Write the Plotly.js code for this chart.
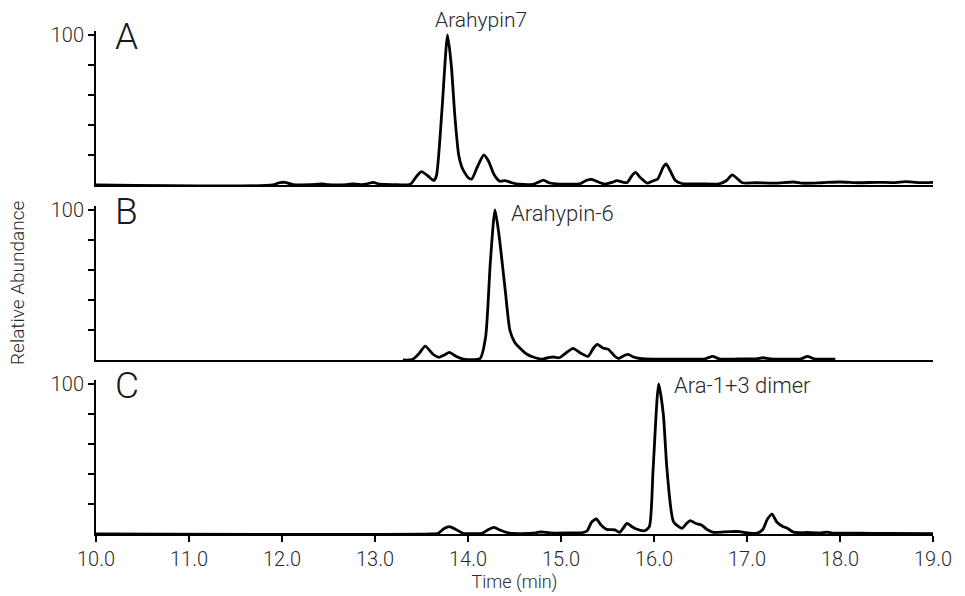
<!DOCTYPE html>
<html>
<head>
<meta charset="utf-8">
<script src="https://cdn.plot.ly/plotly-3.0.1.min.js"></script>
<style>html,body{margin:0;padding:0;background:#fff;}#chart{width:965px;height:596px;}</style>
</head>
<body>
<div id="chart"></div>
<script>
// ---- Data (retention time in min, relative abundance %) ----
const timeA = [10.0,11.9,11.97,12.03,12.12,12.3,12.44,12.5,12.7,12.76,12.85,12.93,12.98,13.05,13.2,13.38,13.45,13.50,13.57,13.63,13.66,13.72,13.78,13.82,13.86,13.90,13.94,14.00,14.04,14.10,14.17,14.22,14.28,14.34,14.40,14.47,14.55,14.70,14.76,14.81,14.87,14.95,15.05,15.20,15.27,15.33,15.40,15.47,15.55,15.60,15.67,15.71,15.76,15.80,15.86,15.93,15.98,16.04,16.10,16.13,16.17,16.23,16.30,16.5,16.7,16.78,16.84,16.90,16.95,17.1,17.3,17.5,17.6,17.8,18.0,18.2,18.4,18.6,18.7,18.85,19.0];
const abundA = [0,0,1.5,1.8,0.3,0.2,0.8,0.2,0.3,0.8,0.3,1.0,1.8,0.5,0.3,0.5,6,8.9,6,3,6,50,100,80,45,20,11,5,4,12,20,16,7,2.5,2.9,1.5,0.5,0.5,2,3.3,1.5,0.8,0.6,0.7,3,3.8,2,0.6,1.8,2.9,1.8,1.6,6,8.4,4.5,1.2,2.5,4,12,14,10,3,1,0.8,0.8,3,6.7,4,1.5,1.5,1.2,2,1.2,1.5,2,1.5,1.8,1.6,2.2,1.6,1.8];

const timeB = [13.3,13.40,13.47,13.54,13.62,13.69,13.75,13.80,13.87,13.95,14.13,14.19,14.24,14.29,14.33,14.40,14.45,14.50,14.56,14.63,14.70,14.80,14.88,14.92,14.98,15.06,15.13,15.20,15.29,15.35,15.39,15.45,15.51,15.57,15.62,15.68,15.72,15.78,15.85,16.0,16.2,16.4,16.55,16.63,16.70,16.85,16.95,17.1,17.17,17.25,17.4,17.58,17.65,17.72,17.95];
const abundB = [0,0.3,4,9.3,4,1.8,3.5,5.1,2.5,0.6,1,15.6,65,100,85,46.7,20,12,7.8,4,2,0.6,1.8,2,1.5,5,7.8,5,2.4,8,10.4,8,7.1,3,1,3,3.8,2,1,0.5,0.6,0.5,0.8,2.4,0.8,0.6,0.8,0.8,1.5,0.8,0.6,0.8,2.4,0.8,0.5];

const timeC = [10.0,13.6,13.68,13.74,13.80,13.87,13.95,14.15,14.22,14.28,14.35,14.45,14.7,14.76,14.81,14.88,15.10,15.22,15.28,15.33,15.38,15.43,15.49,15.58,15.63,15.67,15.71,15.76,15.81,15.90,15.95,15.99,16.05,16.10,16.14,16.21,16.30,16.35,16.39,16.45,16.51,16.57,16.64,16.75,16.82,16.92,17.00,17.10,17.17,17.22,17.27,17.32,17.39,17.43,17.50,17.65,17.80,17.86,17.92,18.2,18.5,19.0];
const abundC = [0,0,0.5,3.5,4.9,3,0.5,0.5,3,4.4,2.5,0.5,0.5,1.2,1.3,0.7,0.7,0.8,2,8,10,6,3.1,2.7,1.1,4,7.1,5,3.3,2.2,4.9,42.7,100,80,42.7,8.2,3.8,7,8.9,7,6,3,1.1,1.4,1.6,1.6,0.8,0.4,3,10,13.3,8,4.9,4,1.2,1,0.8,1.2,0.6,0.5,0.4,0.3];

const panelLetters = ['A','B','C'];
const peakLabels = ['Arahypin7','Arahypin-6','Ara-1+3 dimer'];
const peakLabelTimes = [14.14, 14.44, 16.19];
const peakLabelLevels = [110, 98, 98.7];
const xTicks = [10,11,12,13,14,15,16,17,18,19];
const xTickText = ['10.0','11.0','12.0','13.0','14.0','15.0','16.0','17.0','18.0','19.0'];
const yTicks = [20,40,60,80,100];
const yTickText = ['','','','','100'];

// ---- Layout geometry ----
const W = 965, H = 596, mL = 96, mR = 32, mT = 30, mB = 62;
const plotH = H - mT - mB;
const yMax = 103;
const pxPerUnit = 1.5;
const panelH = yMax * pxPerUnit;
const baselines = [185, 360, 534]; // pixel rows of panel baselines
function dom(base){ const lo=(H-mB-base)/plotH; return [Math.max(0,lo), Math.min(1, lo + panelH/plotH)]; }

const FONT = 'Roboto, "Open Sans", "DejaVu Sans", sans-serif';
const TXT = '#2a2a2a';
const lineStyle = {color:'#000', width:2.8, shape:'spline', smoothing:0.6};

const traces = [
  {x:timeA, y:abundA, xaxis:'x3', yaxis:'y', type:'scatter', mode:'lines', line:lineStyle, hoverinfo:'skip'},
  {x:timeB, y:abundB, xaxis:'x2', yaxis:'y2', type:'scatter', mode:'lines', line:lineStyle, hoverinfo:'skip'},
  {x:timeC, y:abundC, xaxis:'x', yaxis:'y3', type:'scatter', mode:'lines', line:lineStyle, hoverinfo:'skip'}
];

function yAx(d, anchor){
  return {domain:d, anchor:anchor, range:[0,yMax], showline:true, linecolor:'#000', linewidth:2,
    ticks:'outside', ticklen:6, tickwidth:1.5, tickcolor:'#000', tickvals:yTicks, ticktext:yTickText,
    showgrid:false, zeroline:false, tickfont:{family:FONT, size:20, color:TXT, weight:300}};
}
function xAx(anchor, labels){
  return {anchor:anchor, range:[10,19], showline:true, linecolor:'#000', linewidth:2,
    showgrid:false, zeroline:false,
    ticks: labels ? 'outside' : '', ticklen:6, tickwidth:1.5, tickcolor:'#000',
    tickvals:xTicks, ticktext:xTickText, showticklabels:labels,
    tickfont:{family:FONT, size:20, color:TXT, weight:300},
    title: labels ? {text:'Time (min)', font:{family:FONT, size:18, color:TXT, weight:300}, standoff:2} : undefined};
}

const annotations = [];
const yrefs = ['y','y2','y3'];
const xrefs = ['x3','x2','x'];
for (let i=0;i<3;i++){
  annotations.push({xref:xrefs[i], yref:yrefs[i], x:10.18, y:99, xanchor:'left', yanchor:'middle',
    text:panelLetters[i], showarrow:false, font:{family:FONT, size:37, color:'#1a1a1a', weight:300}});
}
// peak labels
annotations.push({xref:'x3', yref:'paper', x:peakLabelTimes[0], y:(H-mB-20)/plotH, xanchor:'center', yanchor:'middle',
  text:peakLabels[0], showarrow:false, font:{family:FONT, size:21, color:TXT, weight:300}});
annotations.push({xref:'x2', yref:'y2', x:peakLabelTimes[1], y:peakLabelLevels[1], xanchor:'left', yanchor:'middle',
  text:peakLabels[1], showarrow:false, font:{family:FONT, size:22, color:TXT, weight:300}});
annotations.push({xref:'x', yref:'y3', x:peakLabelTimes[2], y:peakLabelLevels[2], xanchor:'left', yanchor:'middle',
  text:peakLabels[2], showarrow:false, font:{family:FONT, size:22, color:TXT, weight:300}});
annotations.push({xref:'paper', yref:'paper', x:(17-mL)/(W-mL-mR), y:(H-mB-283)/plotH, xanchor:'center', yanchor:'middle',
  textangle:-90, text:'Relative Abundance', showarrow:false, font:{family:FONT, size:19, color:TXT, weight:300}});

const layout = {
  width:W, height:H, margin:{l:mL, r:mR, t:mT, b:mB},
  paper_bgcolor:'#fff', plot_bgcolor:'#fff', showlegend:false,
  font:{family:FONT, color:TXT},
  xaxis: xAx('y3', true),
  xaxis2: Object.assign(xAx('y2', false), {matches:'x'}),
  xaxis3: Object.assign(xAx('y', false), {matches:'x'}),
  yaxis: yAx(dom(baselines[0]), 'x3'),
  yaxis2: yAx(dom(baselines[1]), 'x2'),
  yaxis3: yAx(dom(baselines[2]), 'x'),
  annotations: annotations
};

Plotly.newPlot('chart', traces, layout, {displayModeBar:false, staticPlot:true});
</script>
</body>
</html>
